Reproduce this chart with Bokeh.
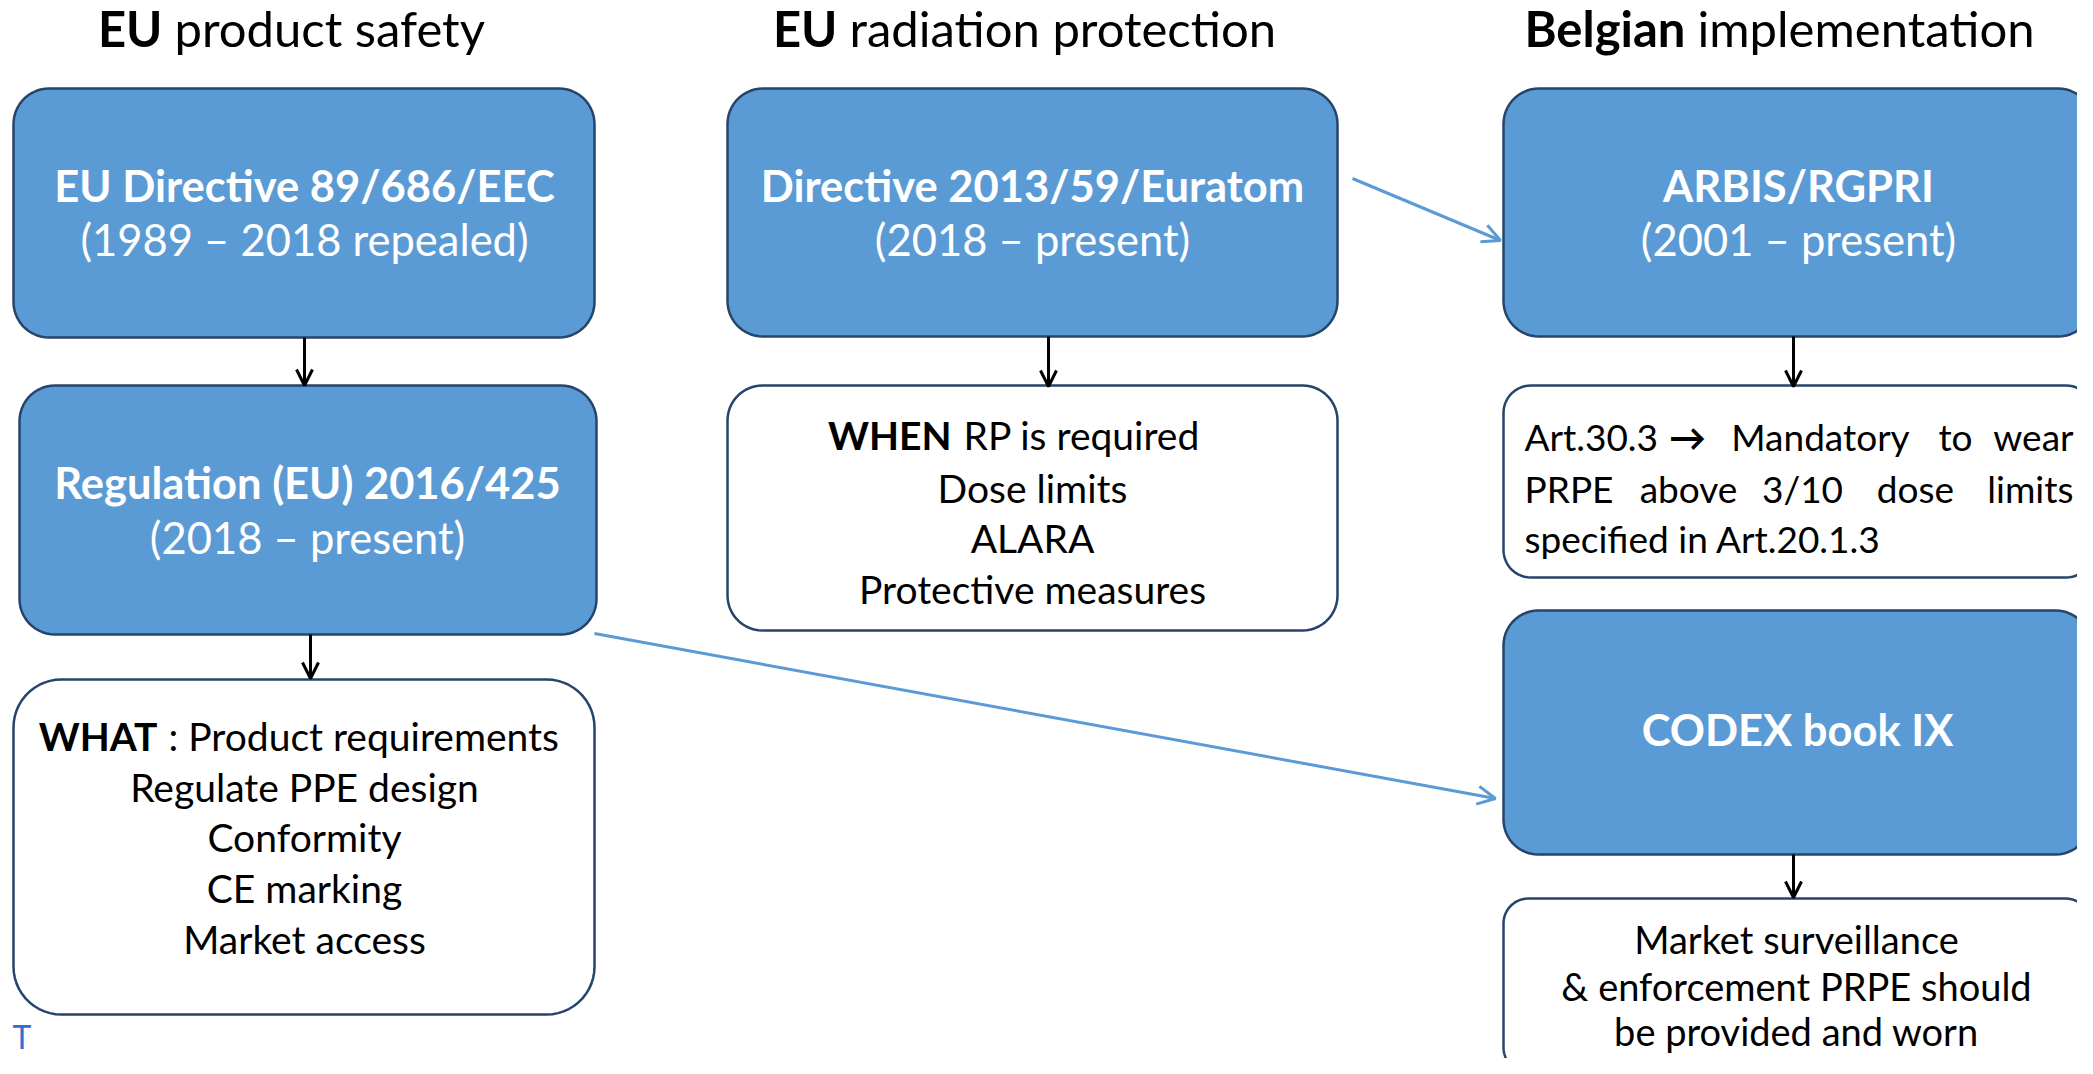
import numpy as np
from bokeh.plotting import figure
from bokeh.models import Range1d, Arrow, OpenHead
from bokeh.core.properties import value
from bokeh.embed import file_html
from bokeh.resources import INLINE

FONT = "Lato"

# ---- content ----
col_titles_bold = ["EU", "EU", "Belgian"]
col_titles_rest = ["product safety", "radiation protection", "implementation"]

blue_box_titles = ["EU Directive 89/686/EEC", "Regulation (EU) 2016/425",
                   "Directive 2013/59/Euratom", "ARBIS/RGPRI", "CODEX book IX"]
blue_box_periods = ["(1989 \u2013 2018 repealed)", "(2018 \u2013 present)",
                    "(2018 \u2013 present)", "(2001 \u2013 present)", ""]

what_bold = "WHAT"
what_lines = [": Product requirements", "Regulate PPE design", "Conformity",
              "CE marking", "Market access"]
when_bold = "WHEN"
when_lines = ["RP is required", "Dose limits", "ALARA", "Protective measures"]
art_lines = [["Art.30.3", "\u2192", "Mandatory", "to", "wear"],
             ["PRPE", "above", "3/10", "dose", "limits"],
             ["specified in Art.20.1.3"]]
market_lines = ["Market surveillance", "& enforcement PRPE should",
                "be provided and worn"]
stray_text = "T"

# ---- layout (reference pixel space) ----
blue_boxes = [(13, 88, 594, 337), (19, 385, 596, 634), (727, 88, 1337, 336),
              (1503, 88, 2093, 336), (1503, 610, 2090, 854)]
white_boxes = [(13, 679, 594, 1014), (727, 385, 1337, 630),
               (1503, 385, 2093, 577), (1503, 898, 2090, 1072)]

BLUE = "#5B9BD5"
EDGE = "#26456A"

W, H = 2077, 1058
p = figure(width=W, height=H, output_backend="svg", toolbar_location=None,
           x_range=Range1d(0, W), y_range=Range1d(H, 0),
           min_border=0, outline_line_color=None)
p.xaxis.visible = False
p.yaxis.visible = False
p.xgrid.visible = False
p.ygrid.visible = False
p.background_fill_color = "white"
p.border_fill_color = "white"


def rounded(x0, y0, x1, y1, r, n=14):
    xs, ys = [], []
    corners = [(x1 - r, y0 + r, -np.pi / 2, 0), (x1 - r, y1 - r, 0, np.pi / 2),
               (x0 + r, y1 - r, np.pi / 2, np.pi), (x0 + r, y0 + r, np.pi, 1.5 * np.pi)]
    for cx, cy, a0, a1 in corners:
        t = np.linspace(a0, a1, n)
        xs.extend(cx + r * np.cos(t))
        ys.extend(cy + r * np.sin(t))
    return xs, ys


def draw_boxes(boxes, fill):
    pxs, pys = [], []
    for (x0, y0, x1, y1) in boxes:
        r = min(x1 - x0, y1 - y0) / 7.0
        xs, ys = rounded(x0, y0, x1, y1, r)
        pxs.append(xs)
        pys.append(ys)
    p.patches(pxs, pys, fill_color=fill, line_color=EDGE, line_width=2.5)


# connectors (drawn under the boxes)
blue_arrows = [((1352, 178), (1500, 240)), ((594, 633), (1495, 798))]
for (xs, ys), (xe, ye) in blue_arrows:
    p.add_layout(Arrow(x_start=xs, y_start=ys, x_end=xe, y_end=ye,
                       line_color=BLUE, line_width=3,
                       end=OpenHead(size=18, line_color=BLUE, line_width=3)))

draw_boxes(blue_boxes, BLUE)
draw_boxes(white_boxes, "white")

black_arrows = [(304, 337, 385), (310, 634, 678), (1048, 336, 386),
                (1793, 336, 386), (1793, 854, 897)]
for x, y0, y1 in black_arrows:
    p.add_layout(Arrow(x_start=x, y_start=y0, x_end=x, y_end=y1,
                       line_color="black", line_width=3,
                       end=OpenHead(size=16, line_color="black", line_width=3)))


def txt(x, y, s, size, bold=False, color="black", align="center", baseline="middle"):
    p.text(x=[x], y=[y], text=[s], text_font=value(FONT),
           text_font_size=f"{size}px", text_font_style="bold" if bold else "normal",
           text_color=color, text_align=align, text_baseline=baseline)


# column titles
title_split = [(162, 174), (837, 849), (1685, 1697)]
for (xb, xr), b, r in zip(title_split, col_titles_bold, col_titles_rest):
    txt(xb, 27, b, 49, bold=True, align="right")
    txt(xr, 27, r, 49, align="left")

# blue box texts
blue_line_y = [(184, 238), (481, 536), (184, 238), (184, 238), (728, None)]
blue_cx = [304, 307, 1032, 1798, 1797]
for cx, (ya, yb), t1, t2 in zip(blue_cx, blue_line_y, blue_box_titles, blue_box_periods):
    txt(cx, ya, t1, 43.5, bold=True, color="white")
    if yb is not None and t2:
        txt(cx, yb, t2, 43.5, color="white")

BODY = 39
# WHAT box
what_y = [735, 786, 836, 887, 938]
txt(157, what_y[0], what_bold, BODY, bold=True, align="right")
txt(168, what_y[0], what_lines[0], BODY, align="left")
for y, s in zip(what_y[1:], what_lines[1:]):
    txt(304, y, s, BODY)

# WHEN box
when_y = [434, 487, 537, 588]
txt(951, when_y[0], when_bold, BODY, bold=True, align="right")
txt(963, when_y[0], when_lines[0], BODY, align="left")
for y, s in zip(when_y[1:], when_lines[1:]):
    txt(1032, y, s, BODY)

# Art box (justified lines)
ART = 37
art_y = [436, 488, 538]
art_x = [[1524, 1687, 1820, 1955, 2073],
         [1524, 1688, 1802, 1915, 2073]]
for y, words, xs in zip(art_y[:2], art_lines[:2], art_x):
    for i, (w, x) in enumerate(zip(words, xs)):
        if i == 0:
            txt(x, y, w, ART, align="left")
        elif i == len(words) - 1:
            txt(x, y, w, ART, align="right")
        else:
            txt(x, y, w, ART, bold=(w == "\u2192"), align="center")
txt(1524, art_y[2], art_lines[2][0], ART, align="left")

# Market box
for y, s in zip([938, 985, 1030], market_lines):
    txt(1796, y, s, 38)

# hyperlink fragment at the left edge
txt(12, 1036, stray_text, 32, color="#2F6FD0", align="left")

open("out.html", "w").write(file_html(p, INLINE))
